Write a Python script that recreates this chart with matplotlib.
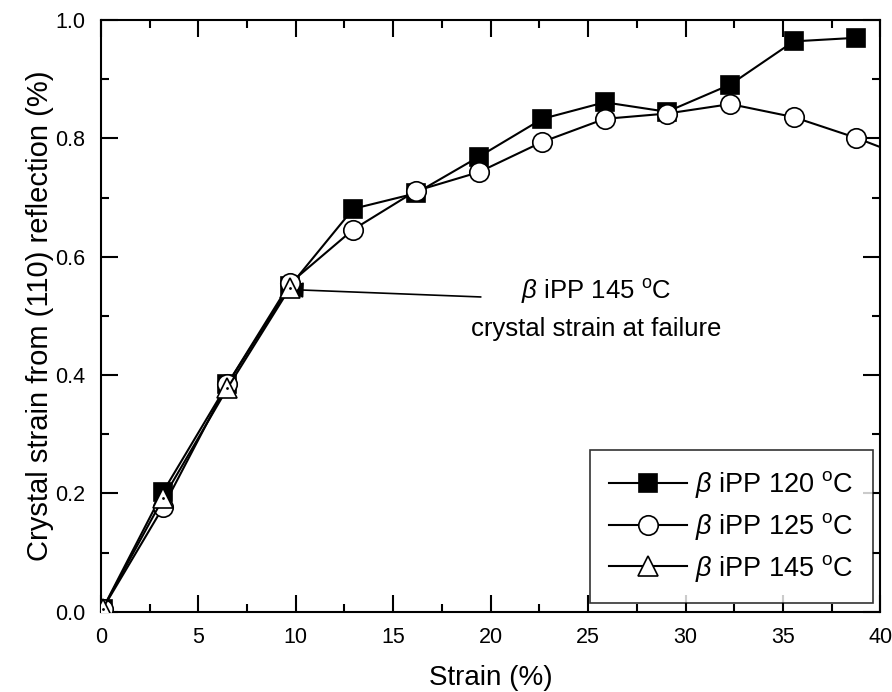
import numpy as np
import matplotlib
matplotlib.use('Agg')
import matplotlib.pyplot as plt
from matplotlib.ticker import MultipleLocator, FormatStrFormatter

plt.rcParams['font.family'] = ['Liberation Sans', 'DejaVu Sans']
plt.rcParams['mathtext.fontset'] = 'custom'
plt.rcParams['mathtext.rm'] = 'Liberation Sans'
plt.rcParams['mathtext.it'] = 'Liberation Sans:italic'

# Datos
strain_120 = [0.1, 3.2, 6.5, 9.7, 12.95, 16.15, 19.4, 22.65, 25.85, 29.05, 32.3, 35.55, 38.75]
crystal_120 = [0.005, 0.203, 0.385, 0.55, 0.681, 0.707, 0.769, 0.833, 0.861, 0.845, 0.891, 0.964, 0.970]

strain_125 = [0.1, 3.2, 6.5, 9.7, 12.95, 16.15, 19.4, 22.65, 25.85, 29.05, 32.3, 35.55, 38.75, 42.0]
crystal_125 = [0.005, 0.177, 0.385, 0.555, 0.646, 0.711, 0.743, 0.794, 0.833, 0.842, 0.858, 0.836, 0.801, 0.76]

strain_145 = [0.1, 3.2, 6.5, 9.7]
crystal_145 = [0.005, 0.192, 0.378, 0.547]

etiquetas = [r'$\beta$ iPP 120 $^{\mathrm{o}}$C',
             r'$\beta$ iPP 125 $^{\mathrm{o}}$C',
             r'$\beta$ iPP 145 $^{\mathrm{o}}$C']

fig = plt.figure(figsize=(8.92, 6.92), dpi=100)
ax = fig.add_axes([0.113, 0.116, 0.874, 0.855])

ax.plot(strain_120, crystal_120, color='black', lw=1.5, marker='s', ms=13,
        mfc='black', mec='black', mew=1.2, label=etiquetas[0], zorder=3)
ax.plot(strain_125, crystal_125, color='black', lw=1.5, marker='o', ms=14,
        mfc='white', mec='black', mew=1.2, label=etiquetas[1], zorder=4)
ax.plot(strain_145, crystal_145, color='black', lw=1.5, marker='^', ms=14,
        mfc='white', mec='black', mew=1.2, label=etiquetas[2], zorder=5)
# punto central de los triángulos
ax.plot(strain_145, crystal_145, ls='none', marker='.', ms=2, color='black', zorder=6)

ax.set_xlim(0, 40)
ax.set_ylim(0, 1.0)
ax.xaxis.set_major_locator(MultipleLocator(5))
ax.xaxis.set_minor_locator(MultipleLocator(2.5))
ax.yaxis.set_major_locator(MultipleLocator(0.2))
ax.yaxis.set_minor_locator(MultipleLocator(0.1))
ax.yaxis.set_major_formatter(FormatStrFormatter('%.1f'))
ax.tick_params(which='both', direction='in', top=True, right=True, width=1.5,
               labelsize=15.5)
ax.tick_params(axis='x', pad=11)
ax.tick_params(axis='y', pad=11)
ax.tick_params(which='major', length=12)
ax.tick_params(which='minor', length=6)
for s in ax.spines.values():
    s.set_linewidth(1.5)

ax.set_xlabel('Strain (%)', fontsize=20, labelpad=12)
ax.set_ylabel('Crystal strain from (110) reflection (%)', fontsize=21, labelpad=1)

ax.annotate('', xy=(9.35, 0.545), xytext=(19.5, 0.532),
            arrowprops=dict(arrowstyle='-|>,head_width=0.35,head_length=0.9',
                            color='black', lw=1.2,
                            mutation_scale=14, shrinkA=0, shrinkB=0))
ax.text(25.4, 0.542, r'$\beta$ iPP 145 $^{\mathrm{o}}$C', fontsize=18.5,
        ha='center', va='center')
ax.text(25.4, 0.478, 'crystal strain at failure', fontsize=18.5,
        ha='center', va='center')

leg = ax.legend(loc='lower right', fontsize=19.5, frameon=True, fancybox=False,
                edgecolor='black', handlelength=2.9, borderpad=0.7,
                labelspacing=0.4, handletextpad=0.3, borderaxespad=0,
                bbox_to_anchor=(0.99, 0.015))
leg.get_frame().set_linewidth(1.2)

fig.savefig('out.png', dpi=100)
